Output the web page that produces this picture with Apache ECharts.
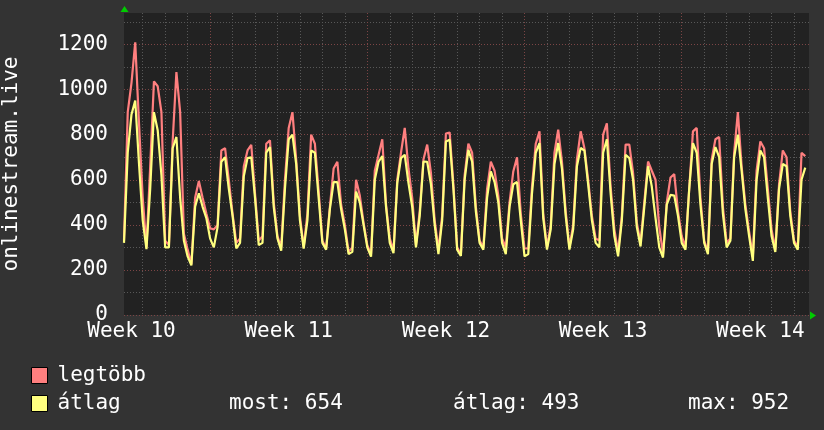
<!DOCTYPE html>
<html>
<head>
<meta charset="utf-8">
<script src="https://cdn.jsdelivr.net/npm/echarts@6/dist/echarts.min.js"></script>
<style>
html,body{margin:0;padding:0;background:#333333;}
#chart{width:824px;height:430px;}
</style>
</head>
<body>
<div id="chart"></div>
<script>
// time axis: hours, 4-hour steps, hour 0 = midnight of the first (partial) day
var startHour = 4, stepHour = 4, endHour = 736;
var weekLabelHours = [12, 180, 348, 516, 684];
var weekLabels = ['Week 10', 'Week 11', 'Week 12', 'Week 13', 'Week 14'];
var yTickLabels = [0, 200, 400, 600, 800, 1000, 1200];
var seriesNames = ['legtöbb', 'átlag'];
var statLabels = ['most', 'átlag', 'max'];
var statValues = [654, 493, 952];
var yAxisTitle = 'onlinestream.live';

// legtöbb (max), one row per day
var legtobb = [
  330, 900, 1030, 1210, 853, 520,
  300, 660, 1037, 1015, 900, 330,
  310, 770, 1078, 900, 360, 290,
  225, 520, 595, 520, 450, 385,
  380, 400, 730, 740, 600, 450,
  320, 340, 659, 730, 755, 540,
  330, 350, 760, 775, 500, 350,
  300, 600, 830, 900, 690, 440,
  300, 450, 800, 760, 550, 330,
  295, 480, 650, 680, 490, 400,
  280, 300, 600, 530, 410, 310,
  270, 640, 710, 780, 490, 340,
  285, 600, 720, 830, 650, 520,
  310, 460, 690, 756, 630, 420,
  290, 440, 805, 810, 580, 300,
  270, 620, 760, 720, 480, 330,
  300, 560, 680, 640, 530, 340,
  300, 500, 637, 700, 450, 295,
  295, 570, 760, 815, 450, 300,
  400, 720, 822, 680, 460, 300,
  400, 690, 815, 740, 600, 440,
  340, 330, 800, 850, 570, 380,
  280, 440, 756, 756, 630, 410,
  320, 500, 681, 640, 600, 390,
  270, 500, 610, 625, 460, 350,
  300, 560, 815, 830, 520, 330,
  280, 690, 780, 790, 480, 320,
  340, 720, 900, 660, 490, 370,
  260, 640, 770, 740, 560, 380,
  290, 580, 730, 700, 460, 330,
  300, 720, 705, null
];

// átlag (average), one row per day
var atlag = [
  320, 720, 890, 952, 674, 420,
  292, 560, 900, 820, 620, 300,
  300, 740, 790, 520, 330, 260,
  220, 480, 540, 480, 430, 340,
  300, 390, 680, 700, 560, 440,
  296, 320, 615, 696, 700, 520,
  310, 320, 720, 745, 480, 340,
  285, 560, 780, 800, 670, 420,
  295, 420, 730, 720, 520, 320,
  290, 470, 590, 590, 470, 380,
  270, 280, 548, 500, 400, 300,
  259, 600, 680, 705, 480, 320,
  274, 585, 696, 711, 585, 480,
  300, 440, 681, 680, 580, 400,
  270, 420, 770, 778, 560, 290,
  262, 600, 733, 680, 460, 320,
  290, 520, 637, 590, 500, 320,
  270, 480, 580, 590, 420, 260,
  270, 540, 720, 763, 430, 290,
  380, 670, 763, 650, 440, 290,
  380, 660, 741, 730, 580, 420,
  320, 300, 720, 780, 540, 350,
  260, 420, 711, 696, 600, 390,
  304, 480, 660, 570, 430, 300,
  255, 490, 533, 530, 440, 320,
  290, 560, 763, 720, 490, 320,
  270, 670, 745, 700, 450, 300,
  330, 700, 800, 640, 470, 350,
  240, 600, 730, 700, 520, 350,
  280, 560, 670, 660, 440, 320,
  290, 600, 654, null
];

var hours = [];
for (var h = startHour; h <= endHour; h += stepHour) hours.push(h);

var FONT = 'DejaVu Sans Mono';
var FS = 21;
var gridGray = '#585858';
var gridRed = '#7c4545';

var chart = echarts.init(document.getElementById('chart'), null, {renderer: 'canvas'});
chart.setOption({
  animation: false,
  backgroundColor: '#333333',
  grid: {left: 124, top: 13, right: 15, bottom: 115, show: true, backgroundColor: '#222222', borderWidth: 0,
         containLabel: false, outerBoundsMode: 'none'},
  legend: {
    orient: 'vertical', left: 31, top: 365, padding: 0, itemGap: 7,
    itemWidth: 16, itemHeight: 16, icon: 'rect',
    itemStyle: {borderColor: '#000000', borderWidth: 1},
    textStyle: {color: '#ffffff', fontFamily: FONT, fontSize: FS, padding: [0, 0, 0, 5]},
    data: seriesNames
  },
  xAxis: {
    type: 'category', data: hours, boundaryGap: false,
    axisLine: {show: false}, axisTick: {show: false},
    axisLabel: {
      color: '#ffffff', fontFamily: FONT, fontSize: FS, margin: 6,
      interval: function (i, v) { return weekLabelHours.indexOf(Number(v)) >= 0; },
      formatter: function (v) { var k = weekLabelHours.indexOf(Number(v)); return k >= 0 ? weekLabels[k] : ''; }
    },
    splitLine: {
      show: true,
      interval: function (i, v) { return Number(v) % 24 === 0; },
      lineStyle: {color: [gridGray, gridGray, gridGray, gridRed, gridGray, gridGray, gridGray], width: 1, type: [1, 2]}
    }
  },
  yAxis: {
    type: 'value', min: 0, max: 1340, interval: 100,
    name: yAxisTitle, nameLocation: 'middle', nameGap: 102,
    nameTextStyle: {color: '#ffffff', fontFamily: FONT, fontSize: FS},
    axisLine: {show: false}, axisTick: {show: false},
    axisLabel: {
      color: '#ffffff', fontFamily: FONT, fontSize: FS, margin: 16, showMaxLabel: false,
      formatter: function (v) { return yTickLabels.indexOf(v) >= 0 ? String(v) : ''; }
    },
    splitLine: {show: true, showMaxLine: false, lineStyle: {color: [gridRed, gridGray], width: 1, type: [1, 2]}}
  },
  series: [
    {name: seriesNames[0], type: 'line', data: legtobb, showSymbol: false, symbol: 'none',
     itemStyle: {color: '#ff7f7f'}, lineStyle: {color: '#ff7f7f', width: 2.2}},
    {name: seriesNames[1], type: 'line', data: atlag, showSymbol: false, symbol: 'none',
     itemStyle: {color: '#ffff7f'}, lineStyle: {color: '#ffff7f', width: 2.2}}
  ],
  graphic: [
    {type: 'polygon', shape: {points: [[124.5, 6], [120.5, 12], [128.5, 12]]}, style: {fill: '#00cc00'}, silent: true},
    {type: 'polygon', shape: {points: [[816, 315.5], [810, 311.5], [810, 319.5]]}, style: {fill: '#00cc00'}, silent: true},
    {type: 'text', left: 229, top: 393, style: {text: statLabels[0] + ': ' + statValues[0], fill: '#ffffff', font: FS + 'px "' + FONT + '"'}},
    {type: 'text', left: 453, top: 393, style: {text: statLabels[1] + ': ' + statValues[1], fill: '#ffffff', font: FS + 'px "' + FONT + '"'}},
    {type: 'text', left: 688, top: 393, style: {text: statLabels[2] + ': ' + statValues[2], fill: '#ffffff', font: FS + 'px "' + FONT + '"'}}
  ]
});
</script>
</body>
</html>
